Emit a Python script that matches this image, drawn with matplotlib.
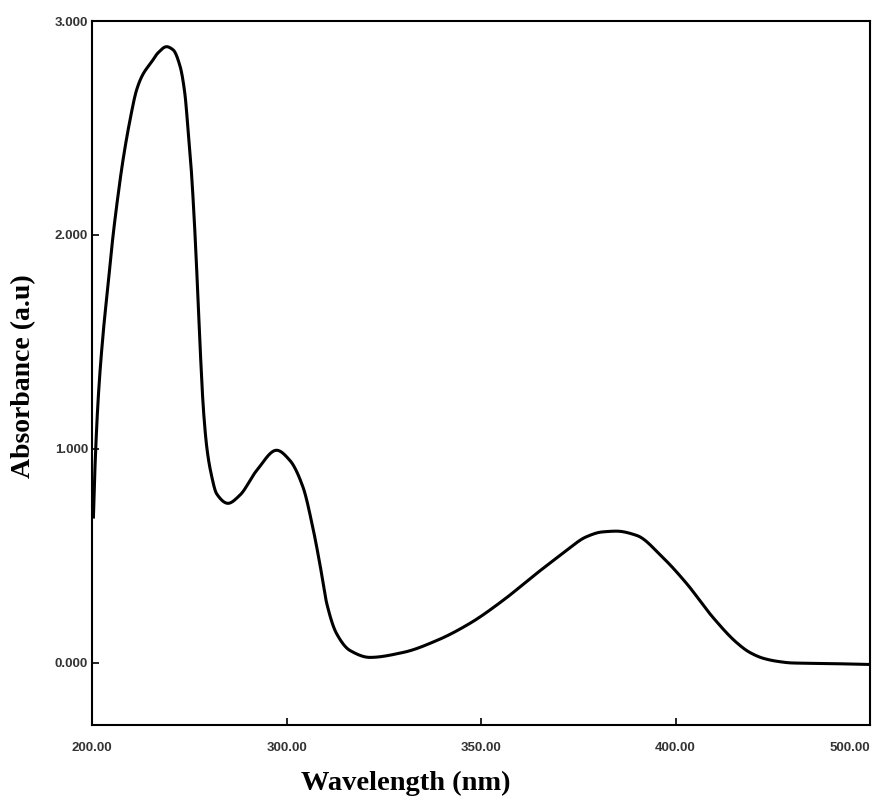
import numpy as np
from matplotlib import pyplot as plt


# Spectrum (nm, absorbance)
wavelength = [
    250.3, 250.7, 251.5, 252.8, 254.1, 255.3, 256.3, 257.9, 259.7, 261.4,
    263.0, 265.3, 266.9, 269.1, 270.8, 272.6, 273.8, 274.6, 275.4, 276.2,
    277.0, 277.8, 278.6, 279.5, 280.5, 282.0, 284.9, 287.9, 292.3, 297.4,
    300.8, 304.2, 306.7, 308.5, 310.3, 312.8, 316.3, 321.4, 329.9, 338.6,
    347.1, 355.6, 364.3, 371.0, 377.1, 381.0, 384.8, 390.0, 396.7, 402.8,
    409.6, 415.7, 419.0, 422.5, 426.0, 430.0, 440.0, 450.0
]
absorbance = [
    0.682, 0.916, 1.228, 1.541, 1.775, 1.990, 2.140, 2.350, 2.537, 2.678,
    2.750, 2.810, 2.851, 2.880, 2.865, 2.787, 2.662, 2.500, 2.320, 2.080,
    1.780, 1.450, 1.180, 1.000, 0.890, 0.790, 0.746, 0.783, 0.900, 0.994,
    0.947, 0.821, 0.634, 0.465, 0.278, 0.138, 0.058, 0.026, 0.049, 0.105,
    0.185, 0.292, 0.419, 0.512, 0.590, 0.612, 0.616, 0.596, 0.493, 0.372,
    0.213, 0.095, 0.050, 0.022, 0.008, 0.000, -0.003, -0.007
]

# Tick labels as printed on the original axis
xticks = [250, 300, 350, 400, 450]
xticklabels = ["200.00", "300.00", "350.00", "400.00", "500.00"]
yticks = [0, 1, 2, 3]
yticklabels = ["0.000", "1.000", "2.000", "3.000"]


# Helper: shape-preserving cubic (pchip) so the traced curve is drawn smooth
def pchip(x, y, xs):
    x = np.asarray(x, float)
    y = np.asarray(y, float)
    h = np.diff(x)
    d = np.diff(y) / h
    m = np.zeros_like(y)
    for k in range(1, len(x) - 1):
        if d[k - 1] * d[k] > 0:
            w1 = 2 * h[k] + h[k - 1]
            w2 = h[k] + 2 * h[k - 1]
            m[k] = (w1 + w2) / (w1 / d[k - 1] + w2 / d[k])
    m[0] = d[0]
    m[-1] = d[-1]
    idx = np.clip(np.searchsorted(x, xs) - 1, 0, len(x) - 2)
    t = (xs - x[idx]) / h[idx]
    h00 = 2 * t**3 - 3 * t**2 + 1
    h10 = t**3 - 2 * t**2 + t
    h01 = -2 * t**3 + 3 * t**2
    h11 = t**3 - t**2
    return (h00 * y[idx] + h10 * h[idx] * m[idx]
            + h01 * y[idx + 1] + h11 * h[idx] * m[idx + 1])


fig = plt.figure(figsize=(8.83, 8.08), dpi=100)
ax = fig.add_axes([0.1045, 0.1027, 0.8808, 0.8713])

xs = np.linspace(wavelength[0], wavelength[-1], 2000)
ax.plot(xs, pchip(wavelength, absorbance, xs), color="black", linewidth=2.2)

ax.set_xlim(250, 450)
ax.set_ylim(-0.29, 3.0)

ax.set_xticks(xticks)
ax.set_xticklabels(xticklabels)
ax.set_yticks(yticks)
ax.set_yticklabels(yticklabels)

for lab in ax.get_xticklabels() + ax.get_yticklabels():
    lab.set_family("Liberation Sans")
    lab.set_fontsize(9.5)
    lab.set_fontweight("bold")
    lab.set_color("#333333")
ax.get_xticklabels()[-1].set_ha("right")

ax.tick_params(axis="x", direction="in", length=5, width=1.2, pad=12)
ax.tick_params(axis="y", direction="in", length=5, width=1.2, pad=3)
for s in ax.spines.values():
    s.set_linewidth(1.5)

fig.text(0.460, 0.0223, "Wavelength (nm)", family="Liberation Serif",
         fontweight="bold", fontsize=20.5, ha="center", va="baseline")
fig.text(0.027, 0.535, "Absorbance (a.u)", family="Liberation Serif",
         fontweight="bold", fontsize=20, ha="center", va="center",
         rotation=90)

fig.savefig("out.png", dpi=100)
